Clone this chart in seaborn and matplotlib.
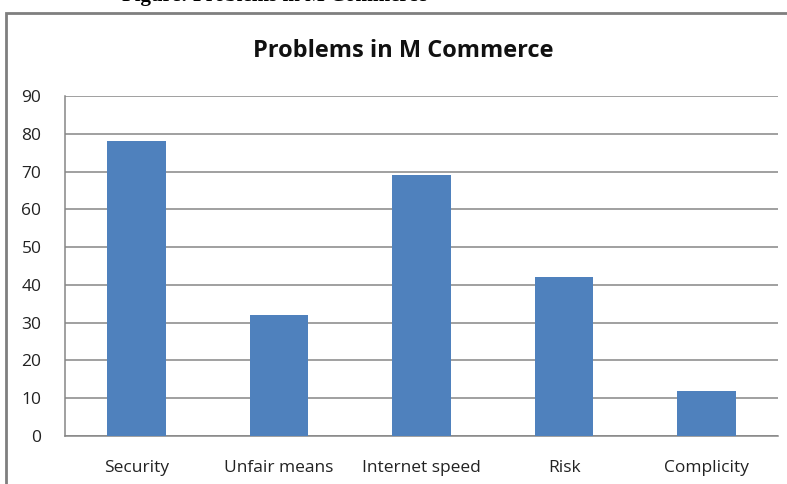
import matplotlib
matplotlib.use("Agg")
import matplotlib.pyplot as plt
import seaborn as sns
import pandas as pd
from matplotlib.patches import Rectangle

categories = ["Security", "Unfair means", "Internet speed", "Risk", "Complicity"]
values = [78, 32, 69, 42, 12]
y_ticks = [0, 10, 20, 30, 40, 50, 60, 70, 80, 90]

sns.set_theme(style="white")
plt.rcParams["font.family"] = ["Open Sans", "DejaVu Sans"]

df = pd.DataFrame({"Problem": categories, "Count": values})

W, H = 787, 484
fig = plt.figure(figsize=(W / 100, H / 100), dpi=100)
ax = fig.add_axes([65 / W, 1 - 436 / H, (778 - 65) / W, (436 - 96) / H])

sns.barplot(data=df, x="Problem", y="Count", color="#4F81BD", width=0.41,
            saturation=1, linewidth=0, ax=ax, zorder=3)

ax.set_ylim(0, 90)
ax.set_yticks(y_ticks)
ax.set_yticklabels([str(t) for t in y_ticks], fontsize=12.5, color="#222222")
ax.set_xticklabels(categories, fontsize=12.5, color="#222222")
ax.set_xlabel("")
ax.set_ylabel("")
ax.tick_params(axis="x", length=0, pad=17)
ax.tick_params(axis="y", length=0, pad=17)
ax.yaxis.grid(True, color="#868686", linewidth=1.1, zorder=0)
ax.set_axisbelow(True)
for side in ["top", "right"]:
    ax.spines[side].set_visible(False)
for side in ["left", "bottom"]:
    ax.spines[side].set_color("#868686")
    ax.spines[side].set_linewidth(1.1)

fig.text(403 / W, 1 - 51 / H, "Problems in M Commerce", ha="center", va="center",
         fontsize=17, fontweight="bold", color="#111111")

# outer chart frame
fig.patches.append(Rectangle((6 / W, -0.05), 1.0, 1 - 13 / H + 0.05,
                             transform=fig.transFigure, fill=False,
                             edgecolor="#7f7f7f", linewidth=2, clip_on=False))

# figure caption above the frame, mostly beyond the top edge
fig.text(274 / W, 1 - 0.5 / H, "Figure: Problems in M Commerce", ha="center",
         va="baseline", fontsize=15, fontweight="bold", color="#000000",
         family=["Liberation Serif", "DejaVu Serif"])

fig.savefig("out.png", dpi=100)
